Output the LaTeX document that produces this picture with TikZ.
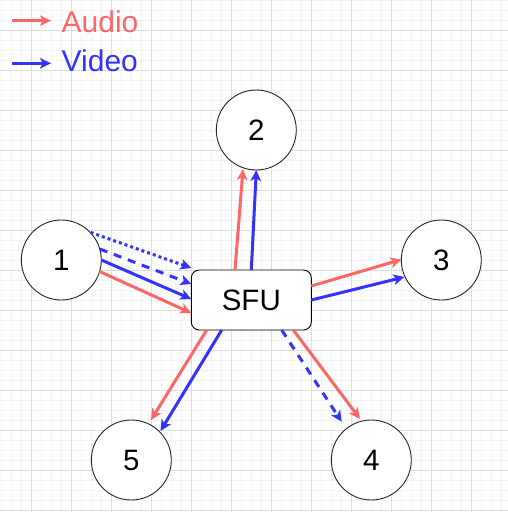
\documentclass[tikz,border=0pt]{standalone}
\usepackage{fontspec}
\setmainfont{Liberation Sans}
\usetikzlibrary{arrows.meta}
\definecolor{aud}{HTML}{FF6666}
\definecolor{vid}{HTML}{3333FF}
\definecolor{gridmajor}{HTML}{DEDEDE}
\definecolor{gridminor}{HTML}{F3F3F3}
\tikzset{
  peer/.style={circle, draw=black!85, line width=0.9pt, fill=white, minimum size=80pt, inner sep=0pt,
    font=\fontsize{29.5}{35}\selectfont},
  server/.style={rectangle, rounded corners=8pt, draw=black, line width=0.9pt, fill=white,
    minimum width=120pt, minimum height=60pt, inner sep=0pt, font=\fontsize{29.5}{35}\selectfont},
  legendtext/.style={anchor=base west, inner sep=0pt, font=\fontsize{30}{36}\selectfont},
  flow/.style={line width=3pt, -{Stealth[length=11pt,width=10.5pt,inset=2.8pt]}},
  audioflow/.style={flow, draw=aud},
  videoflow/.style={flow, draw=vid},
  dashedflow/.style={dash pattern=on 8pt off 7pt},
  dottedflow/.style={dash pattern=on 3pt off 3pt},
}
\begin{document}
\begin{tikzpicture}[x=1pt, y=-1pt]
\useasboundingbox (0,0) rectangle (508,512);
% grid
\foreach \gx in {1.7,11.7,...,508} \draw[gridminor, line width=0.8pt] (\gx,0) -- (\gx,512);
\foreach \gy in {0,10,...,512} \draw[gridminor, line width=0.8pt] (0,\gy) -- (508,\gy);
\foreach \gx in {31.7,71.7,...,508} \draw[gridmajor, line width=0.9pt] (\gx,0) -- (\gx,512);
\foreach \gy in {30,70,...,512} \draw[gridmajor, line width=0.9pt] (0,\gy) -- (508,\gy);

% legend
\coordinate (la0) at (11.7,20.7);
\coordinate (la1) at (51,20.7);
\coordinate (lv0) at (11.7,63.3);
\coordinate (lv1) at (51,63.3);
\draw[audioflow] (la0) -- (la1);
\draw[videoflow] (lv0) -- (lv1);
\node[legendtext, text=aud] (audio) at (61.5,32.3) {Audio};
\node[legendtext, text=vid] (video) at (61.5,71) {Video};

% nodes
\node[peer] (n1) at (61.3,260) {1};
\node[peer] (n2) at (256.3,130) {2};
\node[peer] (n3) at (441.3,260) {3};
\node[peer] (n4) at (371.3,460) {4};
\node[peer] (n5) at (131.3,460) {5};
\node[server] (sfu) at (251.3,300) {SFU};

% 1 -> SFU
\draw[videoflow, dottedflow] ([shift={(29.3,-27.6)}]n1.center) -- ([shift={(-60,-32)}]sfu.center);
\draw[videoflow, dashedflow] ([shift={(38.5,-11)}]n1.center) -- ([shift={(-60,-16)}]sfu.center);
\draw[videoflow] ([shift={(40,0)}]n1.center) -- ([shift={(-60,-1)}]sfu.center);
\draw[audioflow] ([shift={(38.3,11.5)}]n1.center) -- ([shift={(-60,13)}]sfu.center);

% SFU -> 2
\draw[audioflow] ([shift={(-16.3,-30)}]sfu.center) -- ([shift={(-13.3,39)}]n2.center);
\draw[videoflow] ([shift={(0,-30)}]sfu.center) -- ([shift={(0,40)}]n2.center);

% SFU -> 3
\draw[audioflow] ([shift={(60,-14)}]sfu.center) -- ([shift={(-39.8,-0.5)}]n3.center);
\draw[videoflow] ([shift={(60,0)}]sfu.center) -- ([shift={(-36.8,17)}]n3.center);

% SFU -> 4
\draw[videoflow, dashedflow] ([shift={(30.4,30)}]sfu.center) -- ([shift={(-29.6,-38.3)}]n4.center);
\draw[audioflow] ([shift={(42,30)}]sfu.center) -- ([shift={(-11.3,-41)}]n4.center);

% SFU -> 5
\draw[audioflow] ([shift={(-44.6,30)}]sfu.center) -- ([shift={(19.7,-40)}]n5.center);
\draw[videoflow] ([shift={(-29.6,30)}]sfu.center) -- ([shift={(29.2,-29)}]n5.center);
\end{tikzpicture}
\end{document}
